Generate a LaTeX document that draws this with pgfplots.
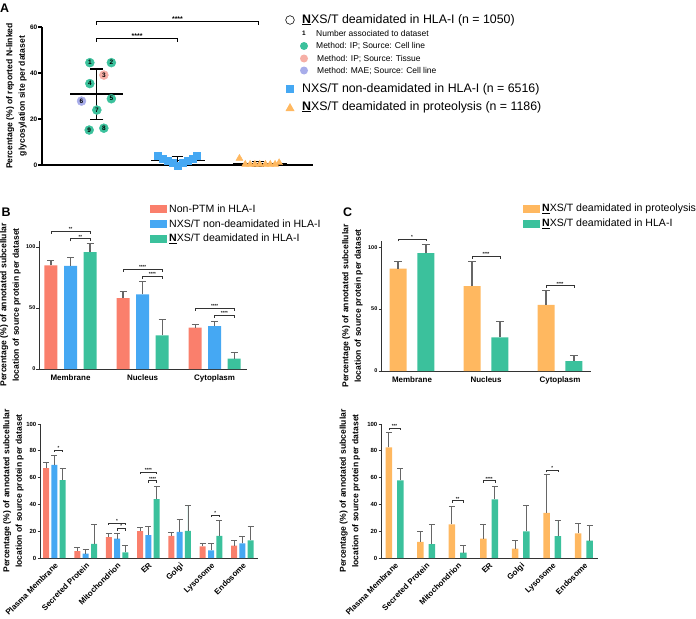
\documentclass[border=0pt]{standalone}
\usepackage{fontspec}
\setmainfont{Liberation Sans}
\usepackage{pgfplots}
\pgfplotsset{compat=1.18}
\usetikzlibrary{calc}
\definecolor{salmon}{HTML}{FA7F6C}
\definecolor{skyb}{HTML}{45A8F3}
\definecolor{mint}{HTML}{3BC19C}
\definecolor{orng}{HTML}{FFB860}
\definecolor{pinkc}{HTML}{F6AFA6}
\definecolor{lilac}{HTML}{A8ADEA}
\definecolor{errc}{HTML}{666666}

\newcommand{\fs}[1]{\fontsize{#1}{#1}\selectfont}

\pgfplotsset{
  panel/.style={scale only axis, anchor=south west, clip=false,
    axis x line*=bottom, axis y line*=left,
    axis line style={-, line width=1bp, draw=black!80},
    tick align=outside, major tick length=2.5bp,
    xtick style={draw=none},
    ytick style={line width=0.8bp, draw=black!80},
    /pgf/number format/assume math mode=true,
    yticklabel style={font=\bfseries\fs{5.5}, inner sep=1bp},
    xticklabel style={font=\bfseries\fs{8}},
    ylabel style={font=\bfseries\fontsize{8.6}{12.5}\selectfont, align=center, anchor=center},
    error bars/error bar style={line width=1.1bp, draw=errc},
  },
  ecap/.style={error bars/error mark options={rotate=90, draw=errc, line width=1bp, mark size=#1}},
  hbar/.style={ybar, bar shift=0bp, draw=none, error bars/y dir=plus, error bars/y explicit},
  dots/.style={only marks, color=#1, mark=*, mark size=4.5bp, mark options={fill=#1, draw=none},
    point meta=explicit symbolic, nodes near coords, nodes near coords align=center,
    nodes near coords style={text=black, font=\bfseries\fs{6.5}, inner sep=0pt}},
}
\tikzset{
  sigline/.style={line width=0.7bp, draw=black!80},
  sigtext/.style={anchor=south, inner sep=0.4bp, font=\bfseries\fs{4.5}},
}
% bracket: x1, x2, y, label, drop
\newcommand{\sig}[5]{%
  \draw[sigline] ([yshift=-#5]axis cs:#1,#3) -- (axis cs:#1,#3) -- (axis cs:#2,#3) -- ([yshift=-#5]axis cs:#2,#3);
  \node[sigtext] at ($(axis cs:#1,#3)!0.5!(axis cs:#2,#3)$) {#4};}

\begin{document}
\begin{tikzpicture}
\path[use as bounding box] (0bp,0bp) rectangle (696bp,-619bp);

% ---------------- A ----------------
\begin{axis}[panel, at={(42bp,-165bp)}, width=271bp, height=138bp,
  xmin=-0.68, xmax=2.68, ymin=0, ymax=60,
  xtick=\empty, ytick={0,20,40,60},
  axis line style={-, line width=1.3bp, draw=black},
  ytick style={line width=1.1bp, draw=black}, major tick length=3.5bp,
  yticklabel style={font=\bfseries\fs{6.5}},
  ylabel={Percentage (\%) of reported N-linked\\glycosylation site per dataset},
  ylabel style={at={(axis description cs:-0.094,0.5)}},
]
% group 1: deamidated in HLA-I
\addplot[dots=mint]
  coordinates {(-0.087,44.5)[1] (0.18,44.5)[2] (-0.087,35.4)[4] (0.18,28.8)[5]
               (0,23.9)[7] (0.087,16.0)[8] (-0.095,15.2)[9]};
\addplot[dots=pinkc] coordinates {(0.087,39.1)[3]};
\addplot[dots=lilac] coordinates {(-0.19,27.8)[6]};
% group 2: non-deamidated
\addplot[only marks, color=skyb, mark=square*, mark size=3.6bp, mark options={fill=skyb, draw=none}]
  coordinates {(0.755,4.0) (0.817,2.9) (0.88,1.9) (0.942,1.0) (1.004,-0.3)
               (1.066,1.0) (1.128,1.9) (1.19,2.9) (1.24,4.2)};
% group 3: proteolysis
\addplot[only marks, color=orng, mark=triangle*, mark size=4bp, mark options={fill=orng, draw=none}]
  coordinates {(1.768,2.9) (1.84,0.3) (1.90,0.3) (1.96,0.3) (2.02,0.3)
               (2.09,0.3) (2.15,0.3) (2.21,0.3) (2.26,1.0)};
% mean and SD
\addplot[black, line width=1.3bp] coordinates {(-0.33,30.9) (0.33,30.9)};
\addplot[black, line width=1.3bp] coordinates {(0.673,2.1) (1.335,2.1)};
\addplot[black, line width=1.3bp] coordinates {(1.69,0.5) (2.36,0.5)};
\addplot[draw=none, error bars/y dir=both, error bars/y explicit,
  error bars/error bar style={draw=black, line width=1.3bp},
  error bars/error mark options={rotate=90, draw=black, line width=1.3bp, mark size=6.5bp}]
  coordinates {(0,30.7) +- (0,11.05)};
\addplot[draw=none, error bars/y dir=both, error bars/y explicit,
  error bars/error bar style={draw=black, line width=1bp},
  error bars/error mark options={rotate=90, draw=black, line width=1bp, mark size=5.8bp}]
  coordinates {(1,2.1) +- (0,1.5) (2,0.5) +- (0,1.1)};
\draw[line width=1bp] ([yshift=-3bp]axis cs:0,54.8) -- (axis cs:0,54.8) -- (axis cs:1,54.8) -- ([yshift=-3bp]axis cs:1,54.8);
\node[anchor=south, inner sep=0.5bp, font=\bfseries\fs{7}] at (axis cs:0.5,54.8) {****};
\draw[line width=1bp] ([yshift=-3bp]axis cs:0,62.2) -- (axis cs:0,62.2) -- (axis cs:2,62.2) -- ([yshift=-3bp]axis cs:2,62.2);
\node[anchor=south, inner sep=0.5bp, font=\bfseries\fs{7}] at (axis cs:1,62.2) {****};
\end{axis}

% ---------------- B top ----------------
\begin{axis}[panel, at={(39bp,-369bp)}, width=208bp, height=128bp,
  xmin=-0.4375, xmax=2.45, ymin=0, ymax=105,
  xtick={0,1,2}, xticklabels={Membrane,Nucleus,Cytoplasm},
  ytick={0,50,100}, ecap=3.5bp,
  ylabel={Percentage (\%) of annotated subcellular\\location of source protein per dataset},
  ylabel style={at={(axis description cs:-0.137,0.5)}},
]
\addplot[hbar, fill=salmon, bar width=13bp]
  coordinates {(-0.271,85.0) +- (0,3.8) (0.729,58.2) +- (0,5.2) (1.729,33.9) +- (0,3.0)};
\addplot[hbar, fill=skyb, bar width=13bp]
  coordinates {(0,84.7) +- (0,6.6) (1,61.2) +- (0,10.7) (2,35.2) +- (0,4.1)};
\addplot[hbar, fill=mint, bar width=13bp]
  coordinates {(0.271,95.9) +- (0,6.8) (1.271,27.6) +- (0,12.8) (2.271,8.5) +- (0,4.9)};
\sig{-0.271}{0.271}{113}{**}{2.5bp}
\sig{0}{0.271}{106.8}{**}{2.5bp}
\sig{0.729}{1.271}{81.7}{****}{2.5bp}
\sig{1}{1.271}{76}{****}{2.5bp}
\sig{1.729}{2.271}{50}{****}{2.5bp}
\sig{2}{2.271}{44}{****}{2.5bp}
\end{axis}

% ---------------- C top ----------------
\begin{axis}[panel, at={(381bp,-371bp)}, width=210bp, height=130bp,
  xmin=-0.419, xmax=2.419, ymin=0, ymax=105,
  xtick={0,1,2}, xticklabels={Membrane,Nucleus,Cytoplasm},
  ytick={0,50,100}, ecap=4bp,
  ylabel={Percentage (\%) of annotated subcellular\\location of source protein per dataset},
  ylabel style={at={(axis description cs:-0.136,0.5)}},
]
\addplot[hbar, fill=orng, bar width=17bp]
  coordinates {(-0.189,82.6) +- (0,5.9) (0.811,68.6) +- (0,19.6) (1.811,53.4) +- (0,11.5)};
\addplot[hbar, fill=mint, bar width=17bp]
  coordinates {(0.189,95.2) +- (0,6.7) (1.189,27.1) +- (0,12.9) (2.189,8.0) +- (0,4.9)};
\sig{-0.189}{0.189}{106.7}{*}{2.5bp}
\sig{0.811}{1.189}{92.5}{****}{2.5bp}
\sig{1.811}{2.189}{68.9}{****}{2.5bp}
\end{axis}

% ---------------- B bottom ----------------
\begin{axis}[panel, at={(40bp,-558bp)}, width=218bp, height=134bp,
  xmin=-0.46, xmax=6.5, ymin=0, ymax=100,
  xtick={0,...,6},
  xticklabels={Plasma Membrane,Secreted Protein,Mitochondrion,ER,Golgi,Lysosome,Endosome},
  xticklabel style={rotate=45, anchor=north east, inner sep=1bp},
  ytick={0,20,40,60,80,100}, yticklabel style={font=\bfseries\fs{6}}, ecap=3bp,
  error bars/error bar style={line width=0.9bp, draw=errc},
  ylabel={Percentage (\%) of annotated subcellular\\location of source protein per dataset},
  ylabel style={at={(axis description cs:-0.122,0.5)}},
]
\addplot[hbar, fill=salmon, bar width=6bp]
  coordinates {(-0.265,67.0) +- (0,4.2) (0.735,5.2) +- (0,2.3) (1.735,15.5) +- (0,2.5) (2.735,20.0) +- (0,2.5)
               (3.735,16.5) +- (0,2.2) (4.735,8.7) +- (0,2.5) (5.735,9.2) +- (0,3.5)};
\addplot[hbar, fill=skyb, bar width=6bp]
  coordinates {(0,69.5) +- (0,7.0) (1,3.2) +- (0,3.0) (2,14.5) +- (0,3.7) (3,17.0) +- (0,6.7)
               (4,19.5) +- (0,9.5) (5,5.7) +- (0,4.8) (6,11.0) +- (0,5.0)};
\addplot[hbar, fill=mint, bar width=6bp]
  coordinates {(0.265,58.2) +- (0,8.3) (1.265,10.5) +- (0,14.5) (2.265,4.2) +- (0,5.0) (3.265,44.0) +- (0,9.7)
               (4.265,20.2) +- (0,19.0) (5.265,16.5) +- (0,11.7) (6.265,13.2) +- (0,10.5)};
\sig{0}{0.265}{80.7}{*}{2bp}
\sig{1.735}{2.265}{26.2}{*}{2bp}
\sig{2}{2.265}{22}{*}{2bp}
\sig{2.735}{3.265}{64}{****}{2bp}
\sig{3}{3.265}{57.7}{****}{2bp}
\sig{5}{5.265}{32}{*}{2bp}
\end{axis}

% ---------------- C bottom ----------------
\begin{axis}[panel, at={(381bp,-558bp)}, width=217bp, height=134bp,
  xmin=-0.43, xmax=6.45, ymin=0, ymax=100,
  xtick={0,...,6},
  xticklabels={Plasma Membrane,Secreted Protein,Mitochondrion,ER,Golgi,Lysosome,Endosome},
  xticklabel style={rotate=45, anchor=north east, inner sep=1bp},
  ytick={0,20,40,60,80,100}, yticklabel style={font=\bfseries\fs{6}}, ecap=3bp,
  error bars/error bar style={line width=0.9bp, draw=errc},
  ylabel={Percentage (\%) of annotated subcellular\\location of source protein per dataset},
  ylabel style={at={(axis description cs:-0.143,0.5)}},
]
\addplot[hbar, fill=orng, bar width=6.5bp]
  coordinates {(-0.181,82.6) +- (0,11.4) (0.819,12.0) +- (0,7.9) (1.819,25.1) +- (0,13.7) (2.819,14.4) +- (0,10.5)
               (3.819,7.0) +- (0,6.4) (4.819,33.6) +- (0,28.4) (5.819,18.4) +- (0,7.5)};
\addplot[hbar, fill=mint, bar width=6.5bp]
  coordinates {(0.181,58.0) +- (0,8.7) (1.181,10.4) +- (0,14.5) (2.181,4.0) +- (0,5.5) (3.181,43.8) +- (0,9.7)
               (4.181,19.9) +- (0,19.4) (5.181,16.4) +- (0,11.7) (6.181,12.9) +- (0,11.0)};
\sig{-0.181}{0.181}{97}{***}{2bp}
\sig{1.819}{2.181}{42.8}{**}{2bp}
\sig{2.819}{3.181}{57.7}{****}{2bp}
\sig{4.819}{5.181}{65.4}{*}{2bp}
\end{axis}

% ---------------- labels and legends ----------------
\begin{scope}[x=1bp, y=-1bp]
\node[font=\bfseries\fs{12.5}, inner sep=0] at (4.5,8) {A};
\node[font=\bfseries\fs{12.5}, inner sep=0] at (6,212.5) {B};
\node[font=\bfseries\fs{12.5}, inner sep=0] at (347.5,212.5) {C};

% legend A
\draw[black, line width=0.6bp] (290,20) circle (4.3bp);
\node[anchor=west, font=\fs{12.4}, inner sep=0] at (302,20) {\underline{\textbf{N}}XS/T deamidated in HLA-I (n = 1050)};
\node[font=\bfseries\fs{6.5}, inner sep=0] at (304,33) {1};
\node[anchor=west, font=\fs{8.5}, inner sep=0] at (316,33) {Number associated to dataset};
\fill[mint] (304,46) circle (4bp);
\node[anchor=west, font=\fs{8.5}, inner sep=0] at (316,46) {Method: IP; Source: Cell line};
\fill[pinkc] (304,58.5) circle (4bp);
\node[anchor=west, font=\fs{8.5}, inner sep=0] at (317,58.5) {Method: IP; Source: Tissue};
\fill[lilac] (304,70.5) circle (4bp);
\node[anchor=west, font=\fs{8.5}, inner sep=0] at (317,70.5) {Method: MAE; Source: Cell line};
\fill[skyb] (286,85) rectangle (294,93);
\node[anchor=west, font=\fs{12.4}, inner sep=0] at (302,89) {NXS/T non-deamidated in HLA-I (n = 6516)};
\fill[orng] (285.5,111) -- (294.5,111) -- (290,103) -- cycle;
\node[anchor=west, font=\fs{12.4}, inner sep=0] at (302,107) {\underline{\textbf{N}}XS/T deamidated in proteolysis (n = 1186)};

% legend B
\fill[salmon] (150,205) rectangle (167,213);
\node[anchor=west, font=\fs{10.6}, inner sep=0] at (169,209) {Non-PTM in HLA-I};
\fill[skyb] (150,220) rectangle (167,228);
\node[anchor=west, font=\fs{10.6}, inner sep=0] at (169,224) {NXS/T non-deamidated in HLA-I};
\fill[mint] (150,235) rectangle (167,243);
\node[anchor=west, font=\fs{10.6}, inner sep=0] at (169,239) {\underline{\textbf{N}}XS/T deamidated in HLA-I};

% legend C
\fill[orng] (523,205) rectangle (540,213);
\node[anchor=west, font=\fs{10.6}, inner sep=0] at (542,209) {\underline{\textbf{N}}XS/T deamidated in proteolysis};
\fill[mint] (523,220) rectangle (540,228);
\node[anchor=west, font=\fs{10.6}, inner sep=0] at (542,224) {\underline{\textbf{N}}XS/T deamidated in HLA-I};
\end{scope}
\end{tikzpicture}
\end{document}
